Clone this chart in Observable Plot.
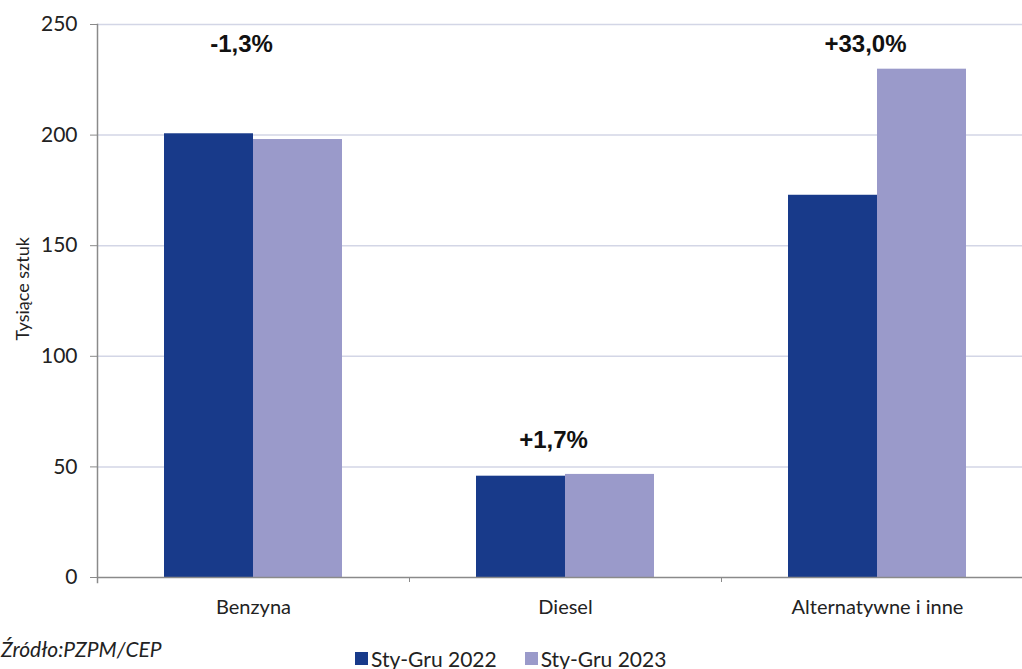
<!DOCTYPE html>
<html>
<head>
<meta charset="utf-8">
<script src="https://cdn.jsdelivr.net/npm/d3@7"></script>
<script src="https://cdn.jsdelivr.net/npm/@observablehq/plot@0.6"></script>
<style>
  body { margin: 0; background: #fff; width: 1022px; height: 669px; overflow: hidden; font-family: Lato, sans-serif; color: #222; }
  #chart svg { display: block; }
  #foot { position: relative; height: 39px; }
  .src { position: absolute; left: 1px; top: 6px; font-style: italic; font-size: 21px; white-space: nowrap; color: #222; }
  .legend { position: absolute; left: 355px; top: 16px; display: flex; align-items: center; font-size: 21px; white-space: nowrap; }
  .legend .sw { display: inline-block; width: 13px; height: 13px; margin-right: 3px; }
  .legend .item { display: flex; align-items: center; margin-right: 28px; }
</style>
</head>
<body>
<div id="chart"></div>
<div id="foot">
  <div class="src">Źródło:PZPM/CEP</div>
  <div class="legend" id="legend"></div>
</div>
<script>
const categories = ["Benzyna", "Diesel", "Alternatywne i inne"];
const seriesNames = ["Sty-Gru 2022", "Sty-Gru 2023"];
const values2022 = [200.6, 45.8, 172.8];
const values2023 = [198.0, 46.6, 229.8];
const changeLabels = ["-1,3%", "+1,7%", "+33,0%"];
const labelHeights = [241, 62, 241];
const yTicks = [0, 50, 100, 150, 200, 250];
const yLabel = "Tysiące sztuk";
const yLabelAt = 130.5;
const colors = ["#183a8a", "#9a9aca"];

const rows2022 = categories.map((c, i) => ({category: c, value: values2022[i]}));
const rows2023 = categories.map((c, i) => ({category: c, value: values2023[i]}));
const notes = categories.map((c, i) => ({category: c, y: labelHeights[i], text: changeLabels[i]}));

const gridColor = "#d3d6e6";
const axisColor = "#8a8a8a";

const chart = Plot.plot({
  width: 1022,
  height: 630,
  marginLeft: 97,
  marginRight: -11,
  marginTop: 24,
  marginBottom: 53,
  style: {fontFamily: "Lato, sans-serif", background: "#fff", overflow: "hidden"},
  x: {domain: categories, padding: 0, axis: null},
  y: {domain: [0, 250], axis: null},
  marks: [
    Plot.ruleY(yTicks.slice(1), {stroke: gridColor, strokeWidth: 1.5}),
    Plot.barY(rows2022, {x: "category", y: "value", fill: colors[0], insetLeft: 67, insetRight: 156}),
    Plot.barY(rows2023, {x: "category", y: "value", fill: colors[1], insetLeft: 156, insetRight: 67}),
    Plot.ruleY([0], {stroke: axisColor, strokeWidth: 1.5}),
    Plot.frame({anchor: "left", stroke: axisColor, strokeWidth: 1.5, insetBottom: -5}),
    Plot.axisY({ticks: yTicks, tickSize: 7, tickPadding: 13, fontSize: 21, stroke: axisColor, fill: "#222", label: null}),
    Plot.axisX({ticks: categories.slice(1), tickSize: 5, tickFormat: () => "", dx: -156, stroke: axisColor, label: null}),
    Plot.axisX({tickSize: 0, tickPadding: 22, fontSize: 20, fill: "#222", label: null}),
    Plot.text([yLabel], {frameAnchor: "left", y: () => yLabelAt, text: d => d, rotate: -90, textAnchor: "middle", dx: -74, fontSize: 18, fill: "#222"}),
    Plot.text(notes, {x: "category", y: "y", text: "text", dx: -12, fontSize: 24, fontWeight: "bold", fontFamily: "Liberation Sans, Arial, sans-serif", fill: "#111"})
  ]
});
document.getElementById("chart").appendChild(chart);

const legend = document.getElementById("legend");
seriesNames.forEach((name, i) => {
  const item = document.createElement("span");
  item.className = "item";
  const sw = document.createElement("span");
  sw.className = "sw";
  sw.style.background = colors[i];
  item.appendChild(sw);
  item.appendChild(document.createTextNode(name));
  legend.appendChild(item);
});
</script>
</body>
</html>
